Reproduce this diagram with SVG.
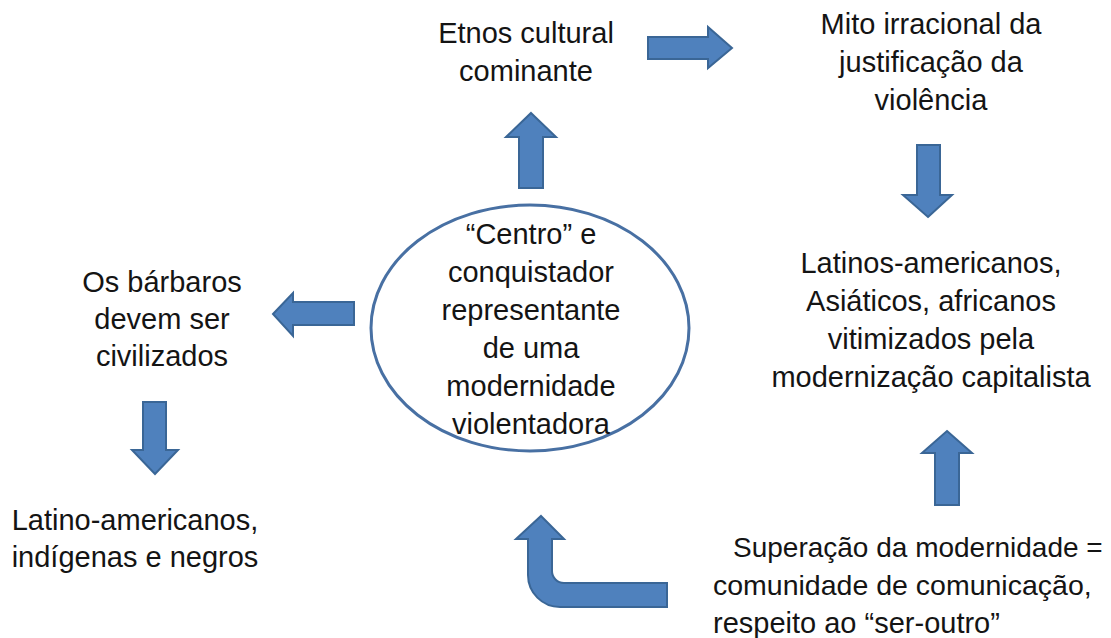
<svg xmlns="http://www.w3.org/2000/svg" width="1111" height="638" viewBox="0 0 1111 638">
<style>
  .t { font-family: "Liberation Sans", Arial, sans-serif; font-size: 29px; fill: #141414; }
  .c { text-anchor: middle; }
  .arr { fill: #4F81BD; stroke: #3A6696; stroke-width: 2; stroke-linejoin: miter; }
</style>
<rect width="1111" height="638" fill="#ffffff"/>

<g id="connectors">
  <!-- ellipse -> Etnos (up) -->
  <path class="arr" d="M531,113 L556,137 L543,137 L543,188 L519,188 L519,137 L506,137 Z"/>
  <!-- Etnos -> Mito (right) -->
  <path class="arr" d="M732,48 L708,27 L708,37 L648,37 L648,59 L708,59 L708,68 Z"/>
  <!-- Mito -> Latinos (down) -->
  <path class="arr" d="M928,217 L952,195 L940,195 L940,145 L917,145 L917,195 L903,195 Z"/>
  <!-- Superação -> Latinos (up) -->
  <path class="arr" d="M947,431 L972,453 L959,453 L959,505 L935,505 L935,453 L922,453 Z"/>
  <!-- ellipse -> bárbaros (left) -->
  <path class="arr" d="M273,314 L293,293 L293,302 L354,302 L354,325 L293,325 L293,336 Z"/>
  <!-- bárbaros -> Latino-americanos (down) -->
  <path class="arr" d="M155,474 L178,450 L166,450 L166,402 L143,402 L143,450 L132,450 Z"/>
  <!-- Superação -> ellipse (bent up) -->
  <path class="arr" d="M541,516 L564,539 L552,539 L552,571 A12,12 0 0 0 564,583 L667,583 L667,607 L560,607 A32,32 0 0 1 528,575 L528,539 L516,539 Z"/>
</g>

<g id="node-centro">
  <ellipse cx="530" cy="328" rx="159" ry="123" fill="none" stroke="#4870A3" stroke-width="3"/>
  <text class="t c" x="531" y="244">“Centro” e</text>
  <text class="t c" x="531" y="282">conquistador</text>
  <text class="t c" x="531" y="320">representante</text>
  <text class="t c" x="531" y="358">de uma</text>
  <text class="t c" x="531" y="396">modernidade</text>
  <text class="t c" x="531" y="434">violentadora</text>
</g>

<g id="node-etnos">
  <text class="t c" x="526" y="43">Etnos cultural</text>
  <text class="t c" x="526" y="81">cominante</text>
</g>

<g id="node-mito">
  <text class="t c" x="931" y="34">Mito irracional da</text>
  <text class="t c" x="931" y="72">justificação da</text>
  <text class="t c" x="931" y="110">violência</text>
</g>

<g id="node-latinos-vitimizados">
  <text class="t c" x="931" y="273">Latinos-americanos,</text>
  <text class="t c" x="931" y="311">Asiáticos, africanos</text>
  <text class="t c" x="931" y="349">vitimizados pela</text>
  <text class="t c" x="931" y="387">modernização capitalista</text>
</g>

<g id="node-superacao">
  <text class="t" x="733" y="557" style="font-size:28px">Superação da modernidade =</text>
  <text class="t" x="713" y="595" style="font-size:28.5px">comunidade de comunicação,</text>
  <text class="t" x="713" y="633">respeito ao “ser-outro”</text>
</g>

<g id="node-barbaros">
  <text class="t c" x="162" y="292">Os bárbaros</text>
  <text class="t c" x="162" y="329">devem ser</text>
  <text class="t c" x="162" y="366">civilizados</text>
</g>

<g id="node-latino-indigenas">
  <text class="t c" x="135" y="530">Latino-americanos,</text>
  <text class="t c" x="135" y="567">indígenas e negros</text>
</g>
</svg>
